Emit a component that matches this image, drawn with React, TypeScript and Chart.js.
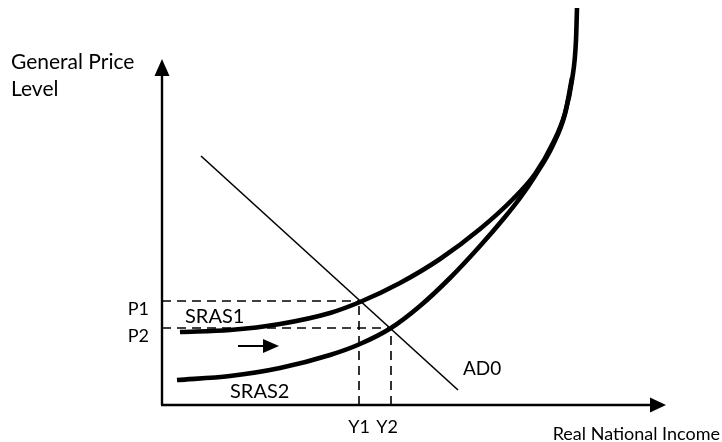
import React, { useEffect, useRef } from "react";
import { Chart, registerables } from "chart.js";

Chart.register(...registerables);

// Curve data (abstract units; origin at axes corner)
const sras1X = [1.8, 6.8, 11.8, 16.8, 19.8, 23.8, 27.8, 31.8, 35.1, 37.3, 39.1, 40.3, 41.0, 41.4, 41.5];
const sras1Y = [7.3, 7.5, 8.1, 9.2, 10.3, 12.2, 14.6, 17.6, 20.6, 23.1, 26.2, 29.2, 32.5, 36.5, 39.7];
const sras2X = [1.5, 6.8, 11.8, 16.8, 19.8, 22.9, 25.8, 28.8, 31.8, 34.3, 35.8, 37.3, 39.1, 40.3, 41.0];
const sras2Y = [2.5, 2.9, 3.7, 5.0, 6.1, 7.7, 9.9, 12.7, 15.9, 18.8, 20.7, 22.9, 26.0, 29.1, 32.7];
const adX = [3.9, 29.6];
const adY = [24.9, 1.5];

// Equilibrium levels
const priceLevels = [10.4, 7.7]; // P1, P2
const incomeLevels = [19.7, 22.9]; // Y1, Y2
const priceLabels = ["P1", "P2"];
const incomeLabels = ["Y1", "Y2"];
const curveLabels = ["SRAS1", "SRAS2", "AD0"];
const yTitle = ["General Price", "Level"];
const xTitle = "Real National Income";

const FONT = "Lato, 'Open Sans', sans-serif";

const toPts = (xs: number[], ys: number[]) => xs.map((x, i) => ({ x, y: ys[i] }));

const annot = {
  id: "annot",
  afterDatasetsDraw(chart: any) {
    const ctx = chart.ctx as CanvasRenderingContext2D;
    const xs = chart.scales.x;
    const ys = chart.scales.y;
    const X = (v: number) => xs.getPixelForValue(v);
    const Y = (v: number) => ys.getPixelForValue(v);
    const ox = X(0);
    const oy = Y(0);
    ctx.save();
    ctx.strokeStyle = "#000";
    ctx.fillStyle = "#000";
    // axes
    ctx.lineWidth = 2.4;
    ctx.beginPath();
    ctx.moveTo(ox, oy);
    ctx.lineTo(ox, 72);
    ctx.moveTo(ox - 1, oy);
    ctx.lineTo(652, oy);
    ctx.stroke();
    // y arrow head
    ctx.beginPath();
    ctx.moveTo(ox, 59);
    ctx.lineTo(ox - 7.5, 76);
    ctx.lineTo(ox + 7.5, 76);
    ctx.closePath();
    ctx.fill();
    // x arrow head
    ctx.beginPath();
    ctx.moveTo(666, oy);
    ctx.lineTo(650, oy - 7.5);
    ctx.lineTo(650, oy + 7.5);
    ctx.closePath();
    ctx.fill();
    // small shift arrow
    ctx.lineWidth = 2;
    ctx.beginPath();
    ctx.moveTo(238, 346);
    ctx.lineTo(266, 346);
    ctx.stroke();
    ctx.beginPath();
    ctx.moveTo(279, 346);
    ctx.lineTo(263, 339);
    ctx.lineTo(263, 353);
    ctx.closePath();
    ctx.fill();

    // texts
    ctx.textBaseline = "middle";
    ctx.font = `18px ${FONT}`;
    ctx.textAlign = "right";
    priceLabels.forEach((t, i) => ctx.fillText(t, ox - 13, Y(priceLevels[i]) + 8));
    ctx.textAlign = "center";
    ctx.fillText(incomeLabels[0], X(incomeLevels[0]), 427);
    ctx.fillText(incomeLabels[1], X(incomeLevels[1]) - 4, 427);
    ctx.textAlign = "left";
    ctx.font = `20px ${FONT}`;
    ctx.fillText(curveLabels[0], 185, 317);
    ctx.fillText(curveLabels[1], 230, 392);
    ctx.font = `19px ${FONT}`;
    ctx.fillText(curveLabels[2], 463, 369);
    ctx.font = `21px ${FONT}`;
    ctx.fillText(yTitle[0], 11, 62);
    ctx.fillText(yTitle[1], 11, 89);
    ctx.font = `18px ${FONT}`;
    ctx.textAlign = "right";
    ctx.fillText(xTitle, 720, 434);
    ctx.restore();
  },
};

export default function App() {
  const ref = useRef<HTMLCanvasElement | null>(null);
  useEffect(() => {
    if (!ref.current) return;
    const dash = [9, 6];
    const dashedStyle = {
      borderColor: "#000",
      borderWidth: 1.6,
      borderDash: dash,
      pointRadius: 0,
      fill: false,
      tension: 0,
      clip: false as any,
    };
    const chart = new Chart(ref.current, {
      type: "line",
      data: {
        datasets: [
          { label: "P1", data: [{ x: 0, y: priceLevels[0] }, { x: incomeLevels[0], y: priceLevels[0] }], ...dashedStyle },
          { label: "P2", data: [{ x: 0, y: priceLevels[1] }, { x: incomeLevels[1], y: priceLevels[1] }], ...dashedStyle },
          { label: "Y1", data: [{ x: incomeLevels[0], y: 0 }, { x: incomeLevels[0], y: priceLevels[0] }], ...dashedStyle },
          { label: "Y2", data: [{ x: incomeLevels[1], y: 0 }, { x: incomeLevels[1], y: priceLevels[1] }], ...dashedStyle },
          {
            label: "AD0",
            data: toPts(adX, adY),
            borderColor: "#000",
            borderWidth: 1.6,
            pointRadius: 0,
            tension: 0,
            clip: false as any,
          },
          {
            label: "SRAS1",
            data: toPts(sras1X, sras1Y),
            borderColor: "#000",
            borderWidth: 4.6,
            pointRadius: 0,
            cubicInterpolationMode: "monotone",
            clip: false as any,
          },
          {
            label: "SRAS2",
            data: toPts(sras2X, sras2Y),
            borderColor: "#000",
            borderWidth: 4.6,
            pointRadius: 0,
            cubicInterpolationMode: "monotone",
            clip: false as any,
          },
        ],
      },
      options: {
        animation: false,
        responsive: false,
        maintainAspectRatio: false,
        layout: { padding: { left: 162, right: 0, top: 0, bottom: 37 } },
        plugins: { legend: { display: false }, tooltip: { enabled: false } },
        scales: {
          x: { type: "linear", min: 0, max: 56, display: false },
          y: { type: "linear", min: 0, max: 40.5, display: false },
        },
      },
      plugins: [annot],
    });
    return () => chart.destroy();
  }, []);
  return (
    <div style={{ position: "absolute", left: 0, top: 0, width: 722, height: 442, background: "#fff" }}>
      <canvas ref={ref} width={722} height={442} style={{ display: "block" }} />
    </div>
  );
}
